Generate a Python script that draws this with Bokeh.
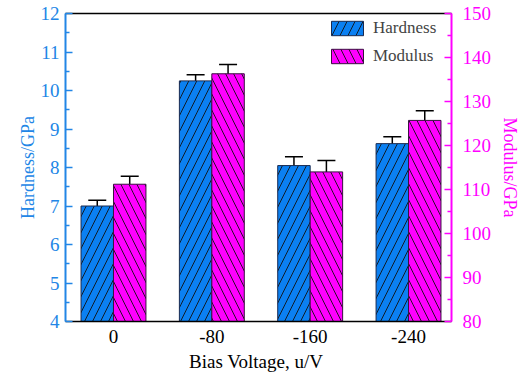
from bokeh.plotting import figure
from bokeh.models import (Range1d, LinearAxis, FixedTicker, ColumnDataSource, Whisker,
                          TeeHead, Legend, LegendItem)
from bokeh.embed import file_html
from bokeh.resources import INLINE

# ---- data ----
voltages = ["0", "-80", "-160", "-240"]
hardness = [7.0, 10.25, 8.05, 8.62]
hardness_err = [0.15, 0.16, 0.23, 0.18]
modulus = [111.2, 136.3, 114.0, 125.7]
modulus_err = [1.8, 2.1, 2.6, 2.2]

BLUE = "#0B80F2"
AXBLUE = "#2286E6"
MAG = "#FF00FF"
FONT = "'Liberation Serif', 'Times New Roman', serif"

idx = list(range(len(voltages)))
off = 0.165
bw = 0.33

p = figure(width=528, height=374, output_backend="svg", toolbar_location=None,
           x_range=Range1d(-0.488, 3.437), y_range=Range1d(4, 12),
           min_border_left=65, min_border_right=77, min_border_top=13, min_border_bottom=51)
p.xgrid.visible = False
p.ygrid.visible = False
p.outline_line_color = None
p.background_fill_color = "white"
p.border_fill_color = "white"
p.extra_y_ranges = {"mod": Range1d(80, 150)}

src_h = ColumnDataSource(dict(x=[i - off for i in idx], top=hardness,
                              up=[h + e for h, e in zip(hardness, hardness_err)],
                              lo=[h - e for h, e in zip(hardness, hardness_err)]))
src_m = ColumnDataSource(dict(x=[i + off for i in idx], top=modulus,
                              up=[m + e for m, e in zip(modulus, modulus_err)],
                              lo=[m - e for m, e in zip(modulus, modulus_err)]))

rh = p.vbar(x="x", top="top", bottom=4, width=bw, source=src_h, fill_color=BLUE,
            line_color="#1a2a50", line_width=1, hatch_pattern="/", hatch_color="#111111",
            hatch_scale=16, hatch_weight=0.9)
rm = p.vbar(x="x", top="top", bottom=80, width=bw, source=src_m, fill_color=MAG,
            line_color="#3a1040", line_width=1, hatch_pattern="\\", hatch_color="#111111",
            hatch_scale=16, hatch_weight=0.9, y_range_name="mod")

wh = Whisker(base="x", upper="up", lower="lo", source=src_h, line_color="black", line_width=1.5,
             upper_head=TeeHead(size=18, line_color="black", line_width=1.5),
             lower_head=TeeHead(size=18, line_color="black", line_width=1.5))
wm = Whisker(base="x", upper="up", lower="lo", source=src_m, line_color="black", line_width=1.5,
             upper_head=TeeHead(size=18, line_color="black", line_width=1.5),
             lower_head=TeeHead(size=18, line_color="black", line_width=1.5),
             y_range_name="mod")
p.add_layout(wh)
p.add_layout(wm)

# bottom axis
xa = p.xaxis[0]
xa.ticker = FixedTicker(ticks=idx)
xa.major_label_overrides = {i: v for i, v in zip(idx, voltages)}
xa.major_tick_line_color = None
xa.minor_tick_line_color = None
xa.axis_line_color = "black"
xa.axis_line_width = 1.5
xa.major_label_text_font = FONT
xa.major_label_text_font_size = "19px"
xa.major_label_text_color = "black"
xa.major_label_standoff = 2
xa.axis_label = "Bias  Voltage, u/V"
xa.axis_label_text_font = FONT
xa.axis_label_text_font_size = "19px"
xa.axis_label_text_font_style = "normal"
xa.axis_label_text_color = "black"
xa.axis_label_standoff = 5

# left axis
ya = p.yaxis[0]
ya.ticker = FixedTicker(ticks=list(range(4, 13)), minor_ticks=[4.5 + i for i in range(8)])
ya.axis_line_color = AXBLUE
ya.axis_line_width = 2
ya.major_tick_line_color = AXBLUE
ya.minor_tick_line_color = AXBLUE
ya.major_tick_line_width = 1.5
ya.minor_tick_line_width = 1.5
ya.major_tick_in = 7
ya.major_tick_out = 0
ya.minor_tick_in = 4
ya.minor_tick_out = 0
ya.major_label_text_color = AXBLUE
ya.major_label_text_font = FONT
ya.major_label_text_font_size = "19px"
ya.major_label_standoff = 6
ya.axis_label = "Hardness/GPa"
ya.axis_label_text_color = AXBLUE
ya.axis_label_text_font = FONT
ya.axis_label_text_font_size = "18px"
ya.axis_label_text_font_style = "normal"
ya.axis_label_standoff = 0

# right axis
ra = LinearAxis(y_range_name="mod",
                ticker=FixedTicker(ticks=list(range(80, 151, 10)),
                                   minor_ticks=list(range(85, 150, 10))))
ra.axis_line_color = MAG
ra.axis_line_width = 2
ra.major_tick_line_color = MAG
ra.minor_tick_line_color = MAG
ra.major_tick_line_width = 1.5
ra.minor_tick_line_width = 1.5
ra.major_tick_in = 7
ra.major_tick_out = 0
ra.minor_tick_in = 4
ra.minor_tick_out = 0
ra.major_label_text_color = MAG
ra.major_label_text_font = FONT
ra.major_label_text_font_size = "19px"
ra.major_label_standoff = 11
ra.axis_label = "Modulus/GPa"
ra.axis_label_text_color = MAG
ra.axis_label_text_font = FONT
ra.axis_label_text_font_size = "18px"
ra.axis_label_text_font_style = "normal"
ra.axis_label_standoff = 6
p.add_layout(ra, "right")

# top border
ta = LinearAxis(ticker=FixedTicker(ticks=[]))
ta.axis_line_color = "black"
ta.axis_line_width = 1.5
ta.major_tick_line_color = None
ta.minor_tick_line_color = None
ta.major_label_text_font_size = "0px"
ta.major_label_standoff = 0
p.add_layout(ta, "above")

legend = Legend(items=[LegendItem(label="Hardness", renderers=[rh]),
                       LegendItem(label="Modulus", renderers=[rm])],
                location=(262, 255), glyph_width=40, glyph_height=18, spacing=8,
                padding=0, margin=0, label_standoff=6, border_line_color=None,
                background_fill_alpha=0, label_text_font=FONT, label_text_font_size="17px",
                label_height=18)
p.add_layout(legend)

open("out.html", "w").write(file_html(p, INLINE))
